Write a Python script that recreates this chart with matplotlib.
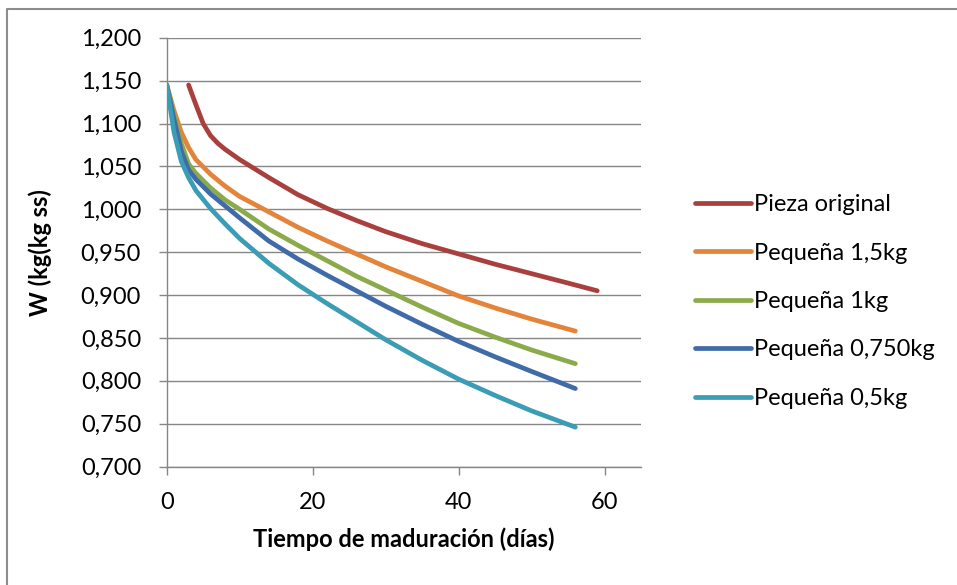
import matplotlib
matplotlib.use("Agg")
import matplotlib.pyplot as plt
from matplotlib.lines import Line2D
from matplotlib.ticker import FuncFormatter

plt.rcParams['font.family'] = ['Lato', 'DejaVu Sans']

# Humedad W frente a días de maduración
dias_original = [3, 4, 5, 6, 7, 8, 10, 14, 18, 22, 26, 30, 35, 40, 45, 50, 55, 59]
w_original = [1.145, 1.122, 1.100, 1.086, 1.077, 1.070, 1.058, 1.037, 1.017,
              1.001, 0.987, 0.974, 0.960, 0.948, 0.936, 0.925, 0.914, 0.905]

dias = [0, 1, 2, 3, 4, 6, 8, 10, 14, 18, 22, 26, 30, 35, 40, 45, 50, 56]
w_1_5kg = [1.145, 1.115, 1.090, 1.072, 1.058, 1.041, 1.027, 1.015, 0.997,
           0.979, 0.963, 0.948, 0.933, 0.916, 0.899, 0.885, 0.872, 0.858]
w_1kg = [1.145, 1.110, 1.077, 1.053, 1.042, 1.025, 1.011, 1.000, 0.977,
         0.958, 0.940, 0.922, 0.906, 0.886, 0.867, 0.851, 0.836, 0.820]
w_0_750kg = [1.145, 1.105, 1.068, 1.046, 1.035, 1.018, 1.004, 0.990, 0.963,
             0.942, 0.923, 0.905, 0.887, 0.866, 0.846, 0.828, 0.811, 0.791]
w_0_5kg = [1.145, 1.090, 1.056, 1.037, 1.022, 1.001, 0.983, 0.966, 0.937,
           0.912, 0.890, 0.869, 0.848, 0.824, 0.802, 0.783, 0.765, 0.746]

series = [
    ("Pieza original", dias_original, w_original, "#A9403D"),
    ("Pequeña 1,5kg", dias, w_1_5kg, "#E3843A"),
    ("Pequeña 1kg", dias, w_1kg, "#8BAB4A"),
    ("Pequeña 0,750kg", dias, w_0_750kg, "#3F6BA8"),
    ("Pequeña 0,5kg", dias, w_0_5kg, "#3A9CB5"),
]

W, H = 957, 585
fig = plt.figure(figsize=(W / 100, H / 100), dpi=100)
ax = fig.add_axes([166.7 / W, 1 - 466.6 / H, (641 - 166.7) / W, (466.6 - 37.8) / H])

grey = "#868686"
fs = 17

handles = []
for name, x, y, c in series:
    ln, = ax.plot(x, y, color=c, lw=3.4, solid_capstyle="round",
                  solid_joinstyle="round", label=name, zorder=3)
    handles.append(ln)

ax.set_xlim(0, 65)
ax.set_ylim(0.7, 1.2)
ax.set_xticks([0, 20, 40, 60])
ax.set_yticks([0.7 + 0.05 * i for i in range(11)])
ax.yaxis.set_major_formatter(FuncFormatter(lambda v, p: f"{v:.3f}".replace(".", ",")))

ax.grid(axis="y", color=grey, lw=1.0)
ax.set_axisbelow(True)
for s in ["top", "right"]:
    ax.spines[s].set_visible(False)
for s in ["left", "bottom"]:
    ax.spines[s].set_color(grey)
    ax.spines[s].set_linewidth(1.0)
ax.tick_params(axis="both", direction="out", length=5.5, width=1.0, color=grey,
               labelsize=fs, labelcolor="black")
ax.tick_params(axis="y", pad=13)
ax.tick_params(axis="x", pad=13)

ax.set_xlabel("Tiempo de maduración (días)", fontsize=fs, fontweight="bold")
ax.set_ylabel("W (kg(kg ss)", fontsize=fs, fontweight="bold")
ax.xaxis.label.set_va("center")
ax.yaxis.label.set_va("center")
ax.xaxis.set_label_coords(0.5, (466.6 - 539) / (466.6 - 37.8))
ax.yaxis.set_label_coords((40 - 166.7) / (641 - 166.7), 0.5)

legend_handles = [Line2D([0], [0], color=h.get_color(), lw=3.4, solid_capstyle="round")
                  for h in handles]
fig.legend(legend_handles, [s[0] for s in series], loc="upper left",
           bbox_to_anchor=(695 / W, 1 - 194.3 / H), frameon=False, fontsize=fs,
           handlelength=2.36, handletextpad=0.14, labelspacing=1.16,
           borderpad=0, borderaxespad=0)

# marco del área del gráfico
fig.add_artist(Line2D([7.5 / W, 7.5 / W, 1.0], [0, 1 - 9 / H, 1 - 9 / H],
                      color="#8C8C8C", lw=1.5, transform=fig.transFigure))

fig.savefig("out.png", dpi=100)
